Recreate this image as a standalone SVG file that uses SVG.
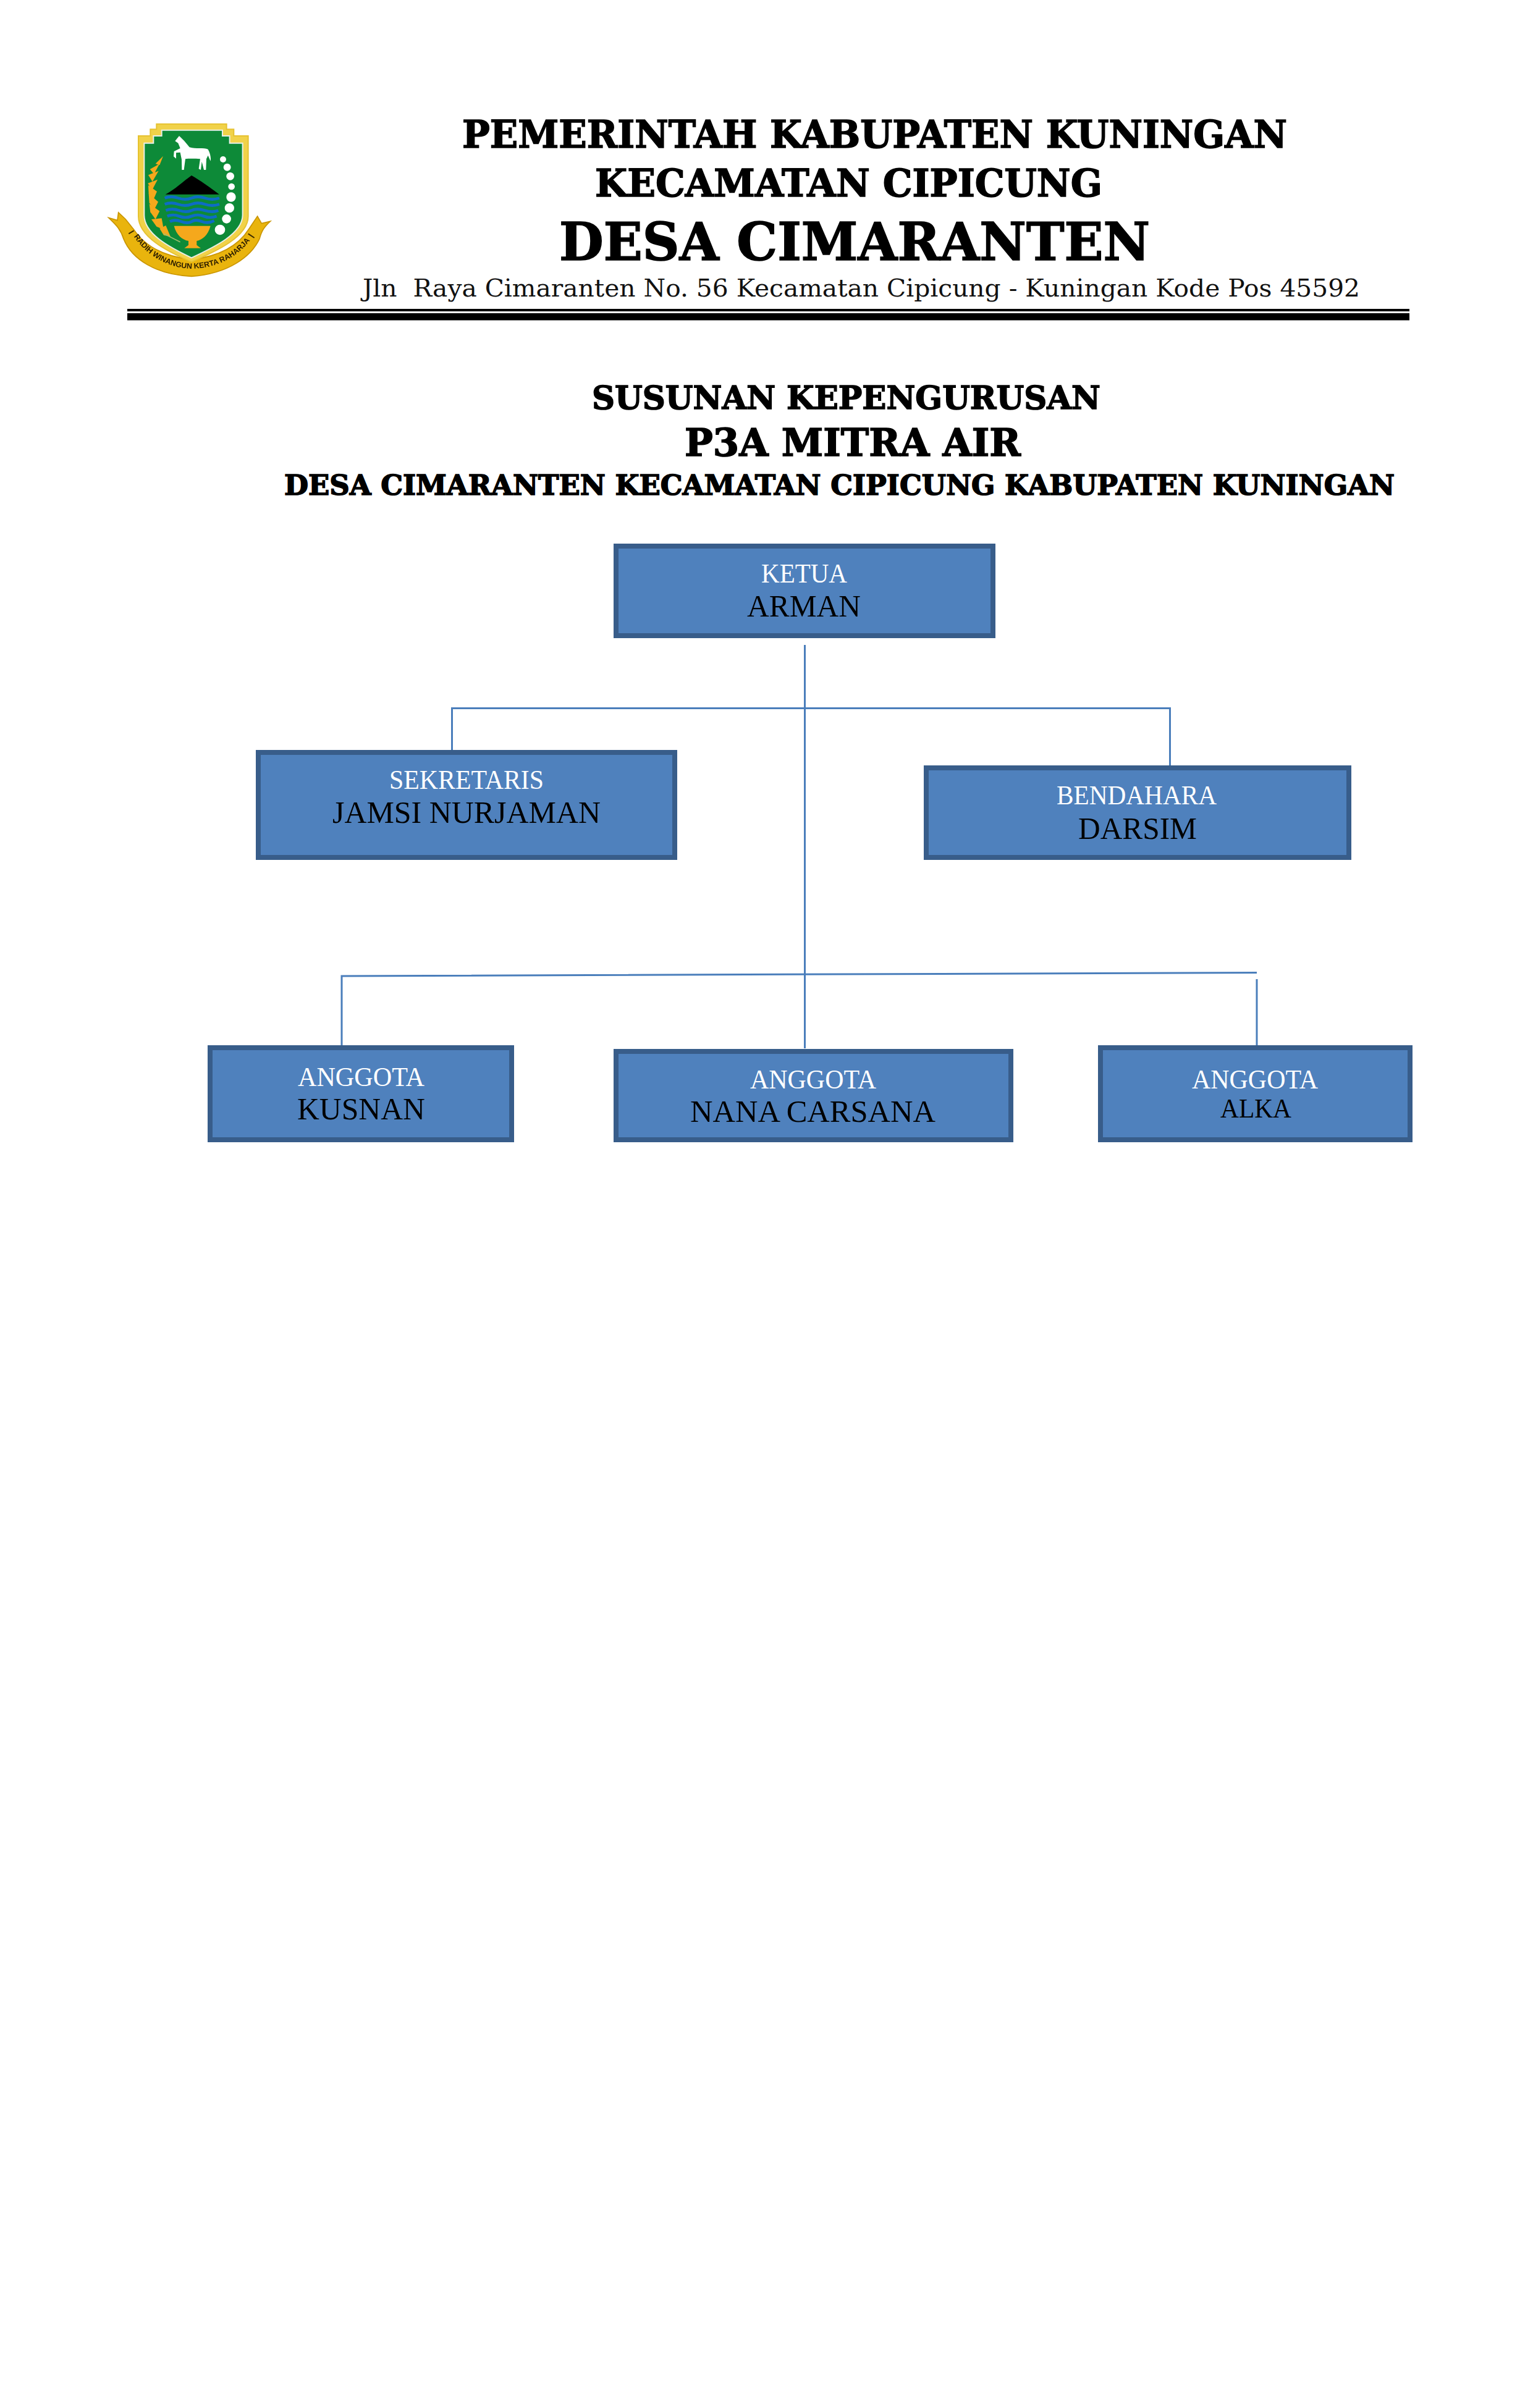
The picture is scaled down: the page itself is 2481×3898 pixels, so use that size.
<svg xmlns="http://www.w3.org/2000/svg" width="2481" height="3898" viewBox="0 0 2481 3898">
<style>
.h{font-family:"DejaVu Serif","Liberation Serif",serif;font-weight:bold;fill:#000;stroke:#000;stroke-width:1.600}
.a{font-family:"DejaVu Serif","Liberation Serif",serif;fill:#111}
.b{fill:#4f81bd;stroke:#385d8a;stroke-width:8}
.r{font-family:"Liberation Serif",serif;font-size:45px;fill:#fff}
.n{font-family:"Liberation Serif",serif;font-size:51px;fill:#000}
.c{fill:none;stroke:#4a7ebb;stroke-width:3}
.w{fill:none;stroke:#0a6cc4;stroke-width:14}
.g{fill:#f5a81a}
.t{fill:#fff}
</style>
<defs>
<filter id="soft" x="-5%" y="-5%" width="110%" height="110%"><feGaussianBlur stdDeviation="1.500"/></filter>
<path id="rb" d="M195,632 C270,745 380,792 480,795 C590,792 700,750 778,640"/>
</defs>
<rect width="2481" height="3898" fill="#fff"/>
<g id="emblem" transform="translate(150 170) scale(.3333)">
<g filter="url(#soft)">
<path id="ribbon" d="M78,548 L120,560 L125,522 L160,555 L200,605 C250,680 340,735 480,750 C620,735 710,680 760,600 L800,540 L820,575 L862,565 C835,590 820,610 810,650 C770,735 660,820 480,832 C310,825 190,750 150,650 C135,600 110,580 78,548Z" fill="#e9b40e" stroke="#c99500" stroke-width="5"/>
<path d="M310,92 H650 V118 H685 V150 H755 V540 C755,640 600,710 480,762 C360,710 222,640 222,540 V150 H280 V118 H310Z" fill="#f1d24a" stroke="#e6c230" stroke-width="6"/>
<path d="M335,122 H630 V150 H665 V185 H728 V535 C728,625 590,690 480,742 C370,690 250,625 250,535 V185 H295 V150 H335Z" fill="#0a8a38" stroke="#e8eee8" stroke-width="6"/>
<path id="horse" class="t" d="M400,175 L420,150 L445,175 L470,205 C500,215 540,205 560,215 C572,235 575,260 572,272 L560,245 L552,262 L550,315 L540,315 L530,275 L525,315 L515,310 L522,262 C495,260 465,260 450,262 L443,315 L433,315 L432,265 L425,230 L405,232 L405,260 L393,250 L395,225 L425,210 L415,185Z"/>
<path id="mountain" d="M353,434 C400,410 440,370 480,342 C520,365 570,400 615,434Z" fill="#050505"/>
<path class="w" d="M350,452 Q380,440 415,452 T480,452 T545,452 T615,452"/>
<path class="w" d="M350,482 Q380,470 415,482 T480,482 T545,482 T615,482"/>
<path class="w" d="M355,512 Q385,500 420,512 T480,512 T545,512 T610,512"/>
<path class="w" d="M362,540 Q390,528 420,540 T480,540 T540,540 T602,540"/>
<path class="w" d="M375,566 Q400,554 430,566 T480,566 T530,566 T590,562"/>
<path id="bowl" class="g" d="M395,587 H572 C560,635 530,655 505,660 V680 L525,695 H445 L465,680 V660 C435,655 405,630 395,587Z"/>
<g id="wheat" class="g">
<path d="M342,248 L325,292 L305,285Z"/><path d="M325,285 L298,335 L278,312Z"/><path d="M320,320 L290,372 L270,340Z"/><path d="M315,362 L288,415 L268,380Z"/><path d="M270,390 L312,420 L295,460 L272,430Z"/><path d="M272,430 L318,470 L298,510 L275,475Z"/><path d="M275,480 L325,515 L305,555 L280,520Z"/><path d="M285,555 L335,550 L345,605 L310,590Z"/><path d="M325,600 L355,585 L378,640 L345,632Z"/>
</g>
<path d="M345,625 L425,665" stroke="#9fbf70" stroke-width="5"/>
<g id="cotton" class="t">
<circle cx="633" cy="264" r="15"/><circle cx="653" cy="302" r="18"/><circle cx="668" cy="346" r="19"/><circle cx="674" cy="396" r="16"/><circle cx="672" cy="447" r="23"/><circle cx="664" cy="500" r="23"/><circle cx="650" cy="553" r="22"/><circle cx="618" cy="606" r="25"/>
</g>
<path d="M175,625 L200,610 M785,645 L755,625" stroke="#3a2b00" stroke-width="6"/>
<text font-family="Liberation Sans,sans-serif" font-weight="bold" font-size="37" fill="#2a1d00"><textPath href="#rb" startOffset="8">RADIH WINANGUN KERTA RAHARJA</textPath></text>
</g>
</g>
<g id="kop">
<text class="h" x="748" y="239" font-size="62" textLength="1335" lengthAdjust="spacingAndGlyphs">PEMERINTAH KABUPATEN KUNINGAN</text>
<text class="h" x="963" y="318" font-size="62" textLength="821" lengthAdjust="spacingAndGlyphs">KECAMATAN CIPICUNG</text>
<text class="h" x="905" y="421" font-size="85" textLength="956" lengthAdjust="spacingAndGlyphs">DESA CIMARANTEN</text>
<text class="a" x="587" y="480" font-size="39" textLength="1614" lengthAdjust="spacingAndGlyphs" xml:space="preserve">Jln  Raya Cimaranten No. 56 Kecamatan Cipicung - Kuningan Kode Pos 45592</text>
<rect x="206" y="500" width="2075" height="4"/>
<rect x="206" y="507" width="2075" height="11.500"/>
</g>
<g id="judul">
<text class="h" x="958" y="662" font-size="53" textLength="823" lengthAdjust="spacingAndGlyphs">SUSUNAN KEPENGURUSAN</text>
<text class="h" x="1108" y="738" font-size="62" textLength="544" lengthAdjust="spacingAndGlyphs">P3A MITRA AIR</text>
<text class="h" x="460" y="801" font-size="45" textLength="1797" lengthAdjust="spacingAndGlyphs">DESA CIMARANTEN KECAMATAN CIPICUNG KABUPATEN KUNINGAN</text>
</g>
<g id="connectors">
<path class="c" d="M1302.500,1044 V1697"/>
<path class="c" d="M731.500,1216 V1146.500 H1893.500 V1244"/>
<path class="c" d="M553,1695 V1580 L2034,1574.500"/>
<path class="c" d="M2034,1585 V1701"/>
</g>
<g id="ketua"><rect class="b" x="997" y="884" width="610" height="145"/>
<text class="r" x="1232" y="943" textLength="139" lengthAdjust="spacingAndGlyphs">KETUA</text>
<text class="n" x="1209" y="998" textLength="184" lengthAdjust="spacingAndGlyphs">ARMAN</text></g>
<g id="sekretaris"><rect class="b" x="418" y="1218" width="674" height="170"/>
<text class="r" x="630" y="1277" textLength="250" lengthAdjust="spacingAndGlyphs">SEKRETARIS</text>
<text class="n" x="538" y="1332" textLength="434" lengthAdjust="spacingAndGlyphs">JAMSI NURJAMAN</text></g>
<g id="bendahara"><rect class="b" x="1499" y="1243" width="684" height="145"/>
<text class="r" x="1710" y="1302" textLength="259" lengthAdjust="spacingAndGlyphs">BENDAHARA</text>
<text class="n" x="1745" y="1358" textLength="192" lengthAdjust="spacingAndGlyphs">DARSIM</text></g>
<g id="anggota1"><rect class="b" x="340" y="1696" width="488" height="149"/>
<text class="r" x="482" y="1758" textLength="205" lengthAdjust="spacingAndGlyphs">ANGGOTA</text>
<text class="n" x="481" y="1812" textLength="207" lengthAdjust="spacingAndGlyphs">KUSNAN</text></g>
<g id="anggota2"><rect class="b" x="997" y="1702" width="639" height="143"/>
<text class="r" x="1214" y="1762" textLength="204" lengthAdjust="spacingAndGlyphs">ANGGOTA</text>
<text class="n" x="1117" y="1816" textLength="397" lengthAdjust="spacingAndGlyphs">NANA CARSANA</text></g>
<g id="anggota3"><rect class="b" x="1781" y="1696" width="501" height="149"/>
<text class="r" x="1929" y="1762" textLength="204" lengthAdjust="spacingAndGlyphs">ANGGOTA</text>
<text class="n" x="1975" y="1809" style="font-size:45px" textLength="115" lengthAdjust="spacingAndGlyphs">ALKA</text></g>
</svg>
